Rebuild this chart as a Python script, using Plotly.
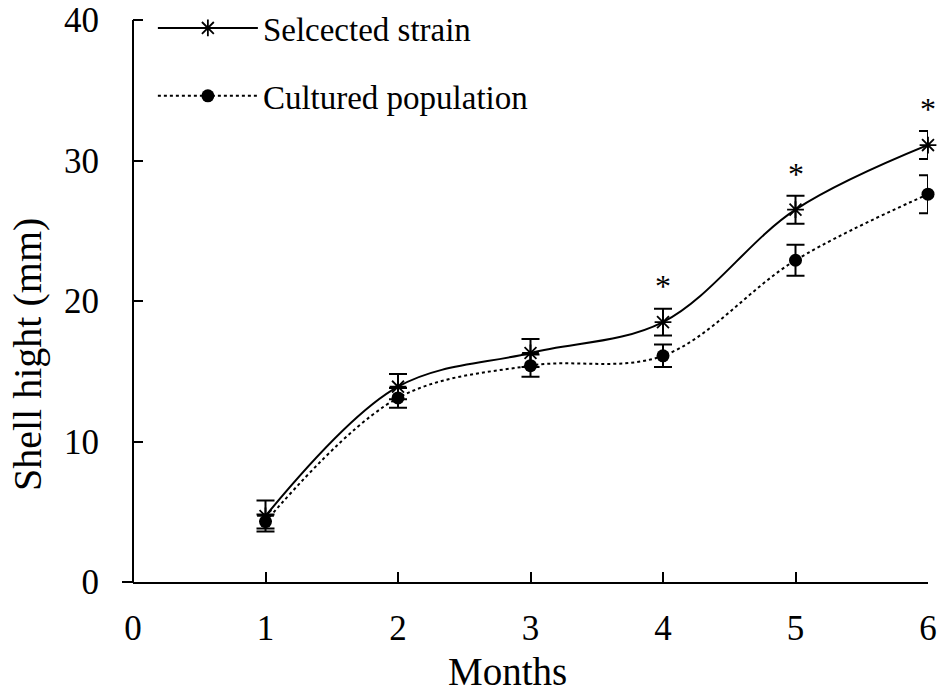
import plotly.graph_objects as go

months = [1, 2, 3, 4, 5, 6]
selected = [4.7, 13.9, 16.3, 18.5, 26.5, 31.1]
selected_err = [1.1, 0.9, 1.0, 0.95, 1.0, 1.0]
cultured = [4.3, 13.1, 15.4, 16.1, 22.9, 27.6]
cultured_err = [0.5, 0.7, 0.8, 0.8, 1.1, 1.35]
sig_months = [4, 5, 6]
sig_y = [21.05, 29.05, 33.7]
x_ticks = [0, 1, 2, 3, 4, 5, 6]
y_ticks = [0, 10, 20, 30, 40]

FONT = "Liberation Serif"
PW, PH = 795, 582  # plot area in px
PX_PER_UNIT = 14.05
Y_TOP = 40 + 20 / PX_PER_UNIT  # headroom so the legend fits inside the plot area

fig = go.Figure()
fig.add_trace(go.Scatter(
    x=months, y=selected, name="Selcected strain", mode="lines+markers",
    line=dict(color="black", width=2, shape="spline", smoothing=1.0),
    marker=dict(symbol="asterisk-open", size=14, color="black", line=dict(width=1.8, color="black")),
    error_y=dict(type="data", array=selected_err, visible=True, color="black", thickness=2, width=9),
    cliponaxis=False, legendgroup="a",
))
fig.add_trace(go.Scatter(
    x=months, y=cultured, name="Cultured population", mode="lines+markers",
    line=dict(color="black", width=2, dash="dot", shape="spline", smoothing=1.0),
    marker=dict(symbol="circle", size=13, color="black"),
    error_y=dict(type="data", array=cultured_err, visible=True, color="black", thickness=2, width=9),
    cliponaxis=False, legendgroup="b",
))

for m, yv in zip(sig_months, sig_y):
    fig.add_annotation(x=m, y=yv, text="*", showarrow=False, xref="x", yref="y",
                       font=dict(family=FONT, size=32, color="black"))

# y axis line (0..40) extended below the x axis; x axis extended left of the y axis
fig.add_shape(type="line", xref="paper", yref="y", x0=0, x1=0, y0=-11 / PX_PER_UNIT, y1=40,
              line=dict(color="black", width=2))
fig.add_shape(type="line", xref="paper", yref="paper", x0=-11 / PW, x1=0, y0=0, y1=0,
              line=dict(color="black", width=2))

# axis titles
fig.add_annotation(text="Months", xref="paper", yref="paper", x=(507 - 133) / PW, y=(582 - 672) / PH,
                   showarrow=False, xanchor="center", yanchor="middle",
                   font=dict(family=FONT, size=39, color="black"))
fig.add_annotation(text="Shell hight (mm)", xref="paper", yref="paper", x=(27 - 133) / PW, y=(582 - 355) / PH,
                   showarrow=False, xanchor="center", yanchor="middle", textangle=-90,
                   font=dict(family=FONT, size=40, color="black"))

fig.update_layout(
    width=945, height=694,
    margin=dict(l=133, r=17, t=0, b=112),
    plot_bgcolor="white", paper_bgcolor="white",
    font=dict(family=FONT, size=34, color="black"),
    showlegend=True,
    legend=dict(x=0.025, y=1.0, xanchor="left", yanchor="top", bgcolor="rgba(0,0,0,0)",
                font=dict(family=FONT, size=33, color="black"),
                itemwidth=100, tracegroupgap=22),
    xaxis=dict(range=[0, 6], tickvals=x_ticks, ticks="inside", ticklen=10,
               tickwidth=2, tickcolor="black", showline=True, linecolor="black", linewidth=2,
               showgrid=False, zeroline=False, ticklabelstandoff=14, ticklabeloverflow="allow",
               tickfont=dict(family=FONT, size=35)),
    yaxis=dict(range=[0, Y_TOP], tickvals=y_ticks, ticks="inside", ticklen=10,
               tickwidth=2, tickcolor="black", showline=False,
               showgrid=False, zeroline=False, ticklabelstandoff=33, ticklabeloverflow="allow",
               tickfont=dict(family=FONT, size=35)),
)

fig.write_html("out.html", config={"displayModeBar": False},
               post_script="document.body.style.margin='0';")
